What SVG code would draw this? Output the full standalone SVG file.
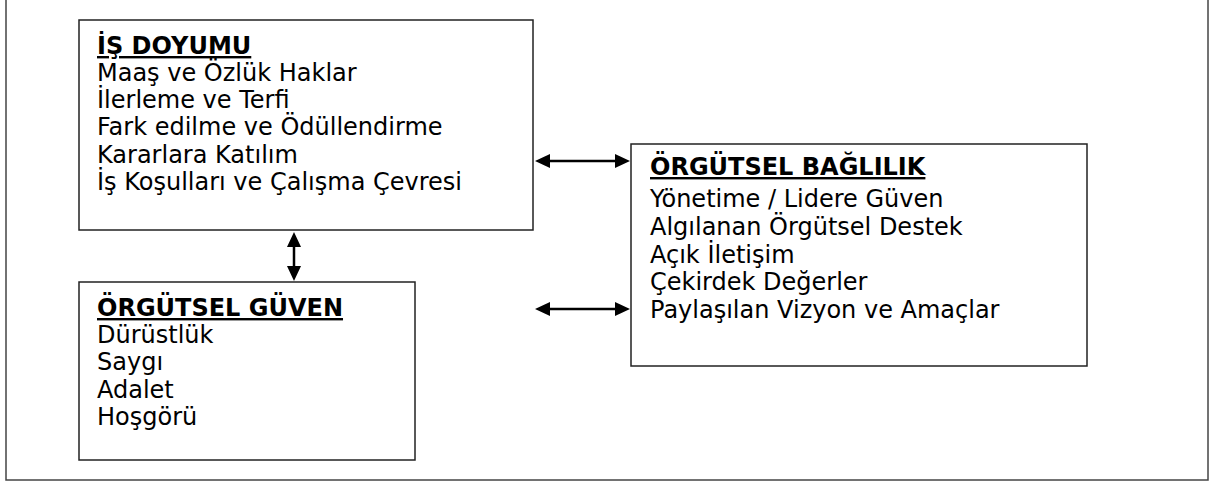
<svg xmlns="http://www.w3.org/2000/svg" width="1210" height="481" viewBox="0 0 1210 481">
<style>
.box{fill:#fff;stroke:#222;stroke-width:1.5}
.t{font-family:"DejaVu Sans",Verdana,sans-serif;font-size:24px;fill:#000}
.h{font-weight:bold;text-decoration:underline}
.c{stroke:#000;stroke-width:2.5;fill:none}
.a{fill:#000}
</style>
<rect x="6" y="-3" width="1202" height="483" fill="#fff" stroke="#444" stroke-width="1.5"/>
<g id="is-doyumu">
<rect class="box" x="79" y="20" width="454" height="210"/>
<text class="t"><tspan class="h" x="97" y="54">İŞ DOYUMU</tspan><tspan x="97" y="81">Maaş ve Özlük Haklar</tspan><tspan x="97" y="108">İlerleme ve Terfi</tspan><tspan x="97" y="135">Fark edilme ve Ödüllendirme</tspan><tspan x="97" y="163">Kararlara Katılım</tspan><tspan x="97" y="190">İş Koşulları ve Çalışma Çevresi</tspan></text>
</g>
<g id="orgutsel-guven">
<rect class="box" x="79" y="282" width="336" height="178"/>
<text class="t"><tspan class="h" x="97" y="316">ÖRGÜTSEL GÜVEN</tspan><tspan x="97" y="343">Dürüstlük</tspan><tspan x="97" y="370">Saygı</tspan><tspan x="97" y="398">Adalet</tspan><tspan x="97" y="425">Hoşgörü</tspan></text>
</g>
<g id="orgutsel-baglilik">
<rect class="box" x="631" y="144" width="456" height="222"/>
<text class="t"><tspan class="h" x="650" y="175">ÖRGÜTSEL BAĞLILIK</tspan><tspan x="650" y="207">Yönetime / Lidere Güven</tspan><tspan x="650" y="235">Algılanan Örgütsel Destek</tspan><tspan x="650" y="263">Açık İletişim</tspan><tspan x="650" y="290">Çekirdek Değerler</tspan><tspan x="650" y="318">Paylaşılan Vizyon ve Amaçlar</tspan></text>
</g>
<g id="connectors">
<line class="c" x1="545" y1="161" x2="619" y2="161"/>
<polygon class="a" points="535,161 550,154 550,168"/>
<polygon class="a" points="630,161 615,154 615,168"/>
<line class="c" x1="545" y1="309" x2="619" y2="309"/>
<polygon class="a" points="535,309 550,302 550,316"/>
<polygon class="a" points="630,309 615,302 615,316"/>
<line class="c" x1="294" y1="242" x2="294" y2="271"/>
<polygon class="a" points="294,232 287,247 301,247"/>
<polygon class="a" points="294,281 287,266 301,266"/>
</g>
</svg>
